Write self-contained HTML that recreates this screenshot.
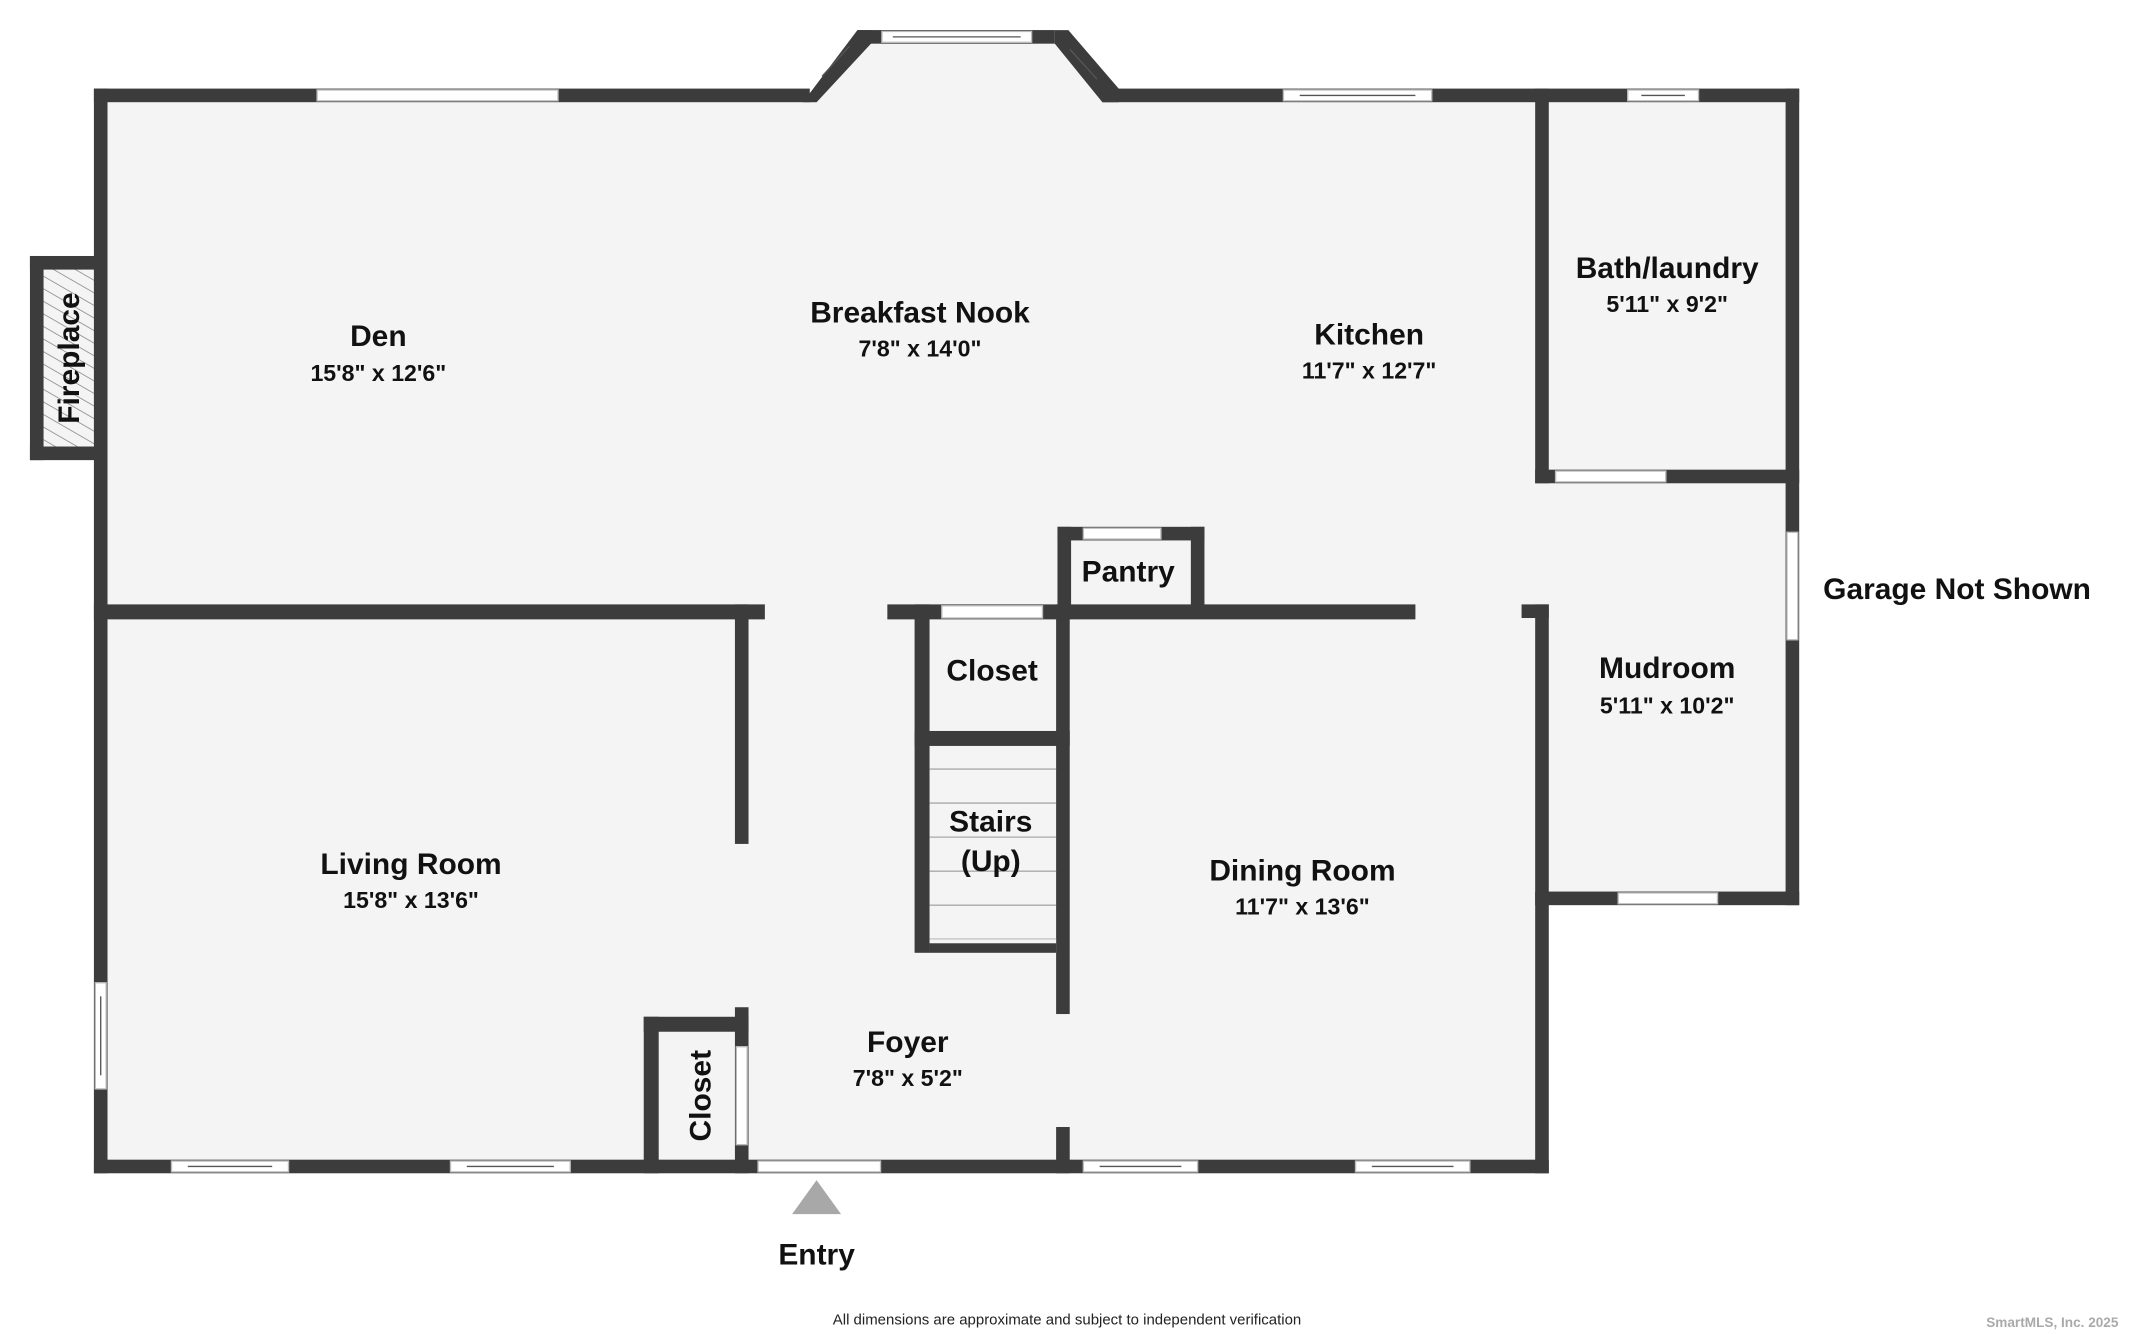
<!DOCTYPE html>
<html><head><meta charset="utf-8"><style>
html,body{margin:0;padding:0;background:#fff;}
svg{display:block;}
text{font-family:"Liberation Sans","DejaVu Sans",sans-serif;font-weight:bold;fill:#111;text-anchor:middle;}
.n{font-size:22px;}
.d{font-size:17px;}
</style></head><body>
<svg width="2134" height="1334" viewBox="0 0 1568 980" xmlns="http://www.w3.org/2000/svg">
<defs>
<pattern id="h" width="8" height="8" patternUnits="userSpaceOnUse" patternTransform="rotate(-60)">
<rect width="8" height="8" fill="#f4f4f4"/><line x1="0" y1="0" x2="0" y2="8" stroke="#777" stroke-width="1"/>
</pattern>
</defs>
<!-- floors -->
<g fill="#f4f4f4">
<polygon points="74,70 593,70 635,27 773,27 813,70 1317,70 1317,660 1133,660 1133,857 74,857"/>
</g>
<rect x="27" y="193" width="47" height="140" fill="url(#h)"/>
<g fill="#3c3c3c">
<!-- fireplace -->
<rect x="22" y="188" width="52" height="10"/><rect x="22" y="328" width="52" height="10"/><rect x="22" y="188" width="10" height="150"/>
<!-- outer top -->
<rect x="69" y="65" width="526" height="10"/>
<polygon points="590,75 630,22 640,22 640,32 600,75"/>
<rect x="630" y="22" width="145" height="10"/>
<polygon points="775,22 785,22 822,65 822,75 810,75 775,32"/>
<rect x="810" y="65" width="512" height="10"/>
<!-- left -->
<rect x="69" y="65" width="10" height="797"/>
<!-- bottom -->
<rect x="69" y="852" width="1069" height="10"/>
<!-- right bath/mudroom -->
<rect x="1312" y="65" width="10" height="600"/>
<rect x="1128" y="65" width="10" height="290"/>
<rect x="1128" y="345" width="194" height="10"/>
<rect x="1128" y="655" width="194" height="10"/>
<rect x="1118" y="444" width="20" height="10"/>
<rect x="1128" y="444" width="10" height="418"/>
<!-- den/living divider -->
<rect x="69" y="444" width="493" height="11"/>
<rect x="540" y="444" width="10" height="176"/>
<!-- closet/pantry row -->
<rect x="652" y="444" width="133" height="11"/>
<rect x="777" y="387" width="108" height="10"/>
<rect x="777" y="387" width="10" height="68"/>
<rect x="875" y="387" width="10" height="63"/>
<rect x="785" y="444" width="255" height="11"/>
<!-- stairs -->
<rect x="672" y="444" width="11" height="256"/>
<rect x="776" y="444" width="10" height="301"/>
<rect x="672" y="537" width="114" height="11"/>
<!-- foyer closet -->
<rect x="473" y="747" width="77" height="11"/>
<rect x="473" y="747" width="11" height="115"/>
<rect x="540" y="740" width="10" height="122"/>
<rect x="776" y="828" width="10" height="34"/>
</g>
<!-- stair treads -->
<g stroke="#aaa" stroke-width="1">
<line x1="683" y1="565" x2="776" y2="565"/><line x1="683" y1="590" x2="776" y2="590"/><line x1="683" y1="615" x2="776" y2="615"/><line x1="683" y1="640" x2="776" y2="640"/><line x1="683" y1="665" x2="776" y2="665"/><line x1="683" y1="690" x2="776" y2="690"/>
</g>
<rect x="683" y="690" width="93" height="10" fill="#3c3c3c"/>
<rect x="683" y="690" width="93" height="3" fill="#f4f4f4"/>
<!-- windows / openings -->
<g fill="#fff" stroke="#bbb" stroke-width="1">
<rect x="233" y="66" width="177" height="8"/>
<rect x="648" y="23" width="110" height="8"/>
<rect x="943" y="66" width="109" height="8"/>
<rect x="1196" y="66" width="52" height="8"/>
<rect x="1143" y="346" width="81" height="8"/>
<rect x="1313" y="391" width="8" height="79"/>
<rect x="1189" y="656" width="73" height="8"/>
<rect x="126" y="853" width="86" height="8"/>
<rect x="331" y="853" width="88" height="8"/>
<rect x="796" y="853" width="84" height="8"/>
<rect x="996" y="853" width="84" height="8"/>
<rect x="557" y="853" width="90" height="8"/>
<rect x="70" y="722" width="8" height="78"/>
<rect x="692" y="445" width="74" height="9"/>
<rect x="796" y="388" width="57" height="8"/>
<rect x="541" y="769" width="8" height="72"/>
</g>
<g stroke="#555" stroke-width="1">
<line x1="138" y1="857" x2="200" y2="857"/><line x1="343" y1="857" x2="407" y2="857"/>
<line x1="808" y1="857" x2="868" y2="857"/><line x1="1008" y1="857" x2="1068" y2="857"/>
<line x1="955" y1="70" x2="1040" y2="70"/><line x1="1206" y1="70" x2="1238" y2="70"/>
<line x1="656" y1="27" x2="750" y2="27"/><line x1="74" y1="732" x2="74" y2="790"/>
<line x1="604" y1="56" x2="624" y2="34"/><line x1="786" y1="36" x2="806" y2="58"/>
</g>
<polygon points="600,867 582,892 618,892" fill="#a8a8a8"/>
<!-- labels -->
<text class="n" x="278" y="254">Den</text><text class="d" x="278" y="280">15'8" x 12'6"</text>
<text class="n" x="676" y="237">Breakfast Nook</text><text class="d" x="676" y="262">7'8" x 14'0"</text>
<text class="n" x="1006" y="253">Kitchen</text><text class="d" x="1006" y="278">11'7" x 12'7"</text>
<text class="n" x="1225" y="204">Bath/laundry</text><text class="d" x="1225" y="229">5'11" x 9'2"</text>
<text class="n" x="829" y="427">Pantry</text>
<text class="n" x="1438" y="440">Garage Not Shown</text>
<text class="n" x="729" y="500">Closet</text>
<text class="n" x="1225" y="498">Mudroom</text><text class="d" x="1225" y="524">5'11" x 10'2"</text>
<text class="n" x="728" y="611">Stairs</text><text class="n" x="728" y="640">(Up)</text>
<text class="n" x="302" y="642">Living Room</text><text class="d" x="302" y="667">15'8" x 13'6"</text>
<text class="n" x="957" y="647">Dining Room</text><text class="d" x="957" y="672">11'7" x 13'6"</text>
<text class="n" x="667" y="773">Foyer</text><text class="d" x="667" y="798">7'8" x 5'2"</text>
<text class="n" transform="translate(522,805) rotate(-90)">Closet</text>
<text class="n" transform="translate(58,263) rotate(-90)">Fireplace</text>
<text class="n" x="600" y="929">Entry</text>
<text x="784" y="973" style="font-size:11px;font-weight:normal;fill:#222">All dimensions are approximate and subject to independent verification</text>
<text x="1508" y="975" style="font-size:10px;fill:#aaa">SmartMLS, Inc.  2025</text>
</svg>
</body></html>
